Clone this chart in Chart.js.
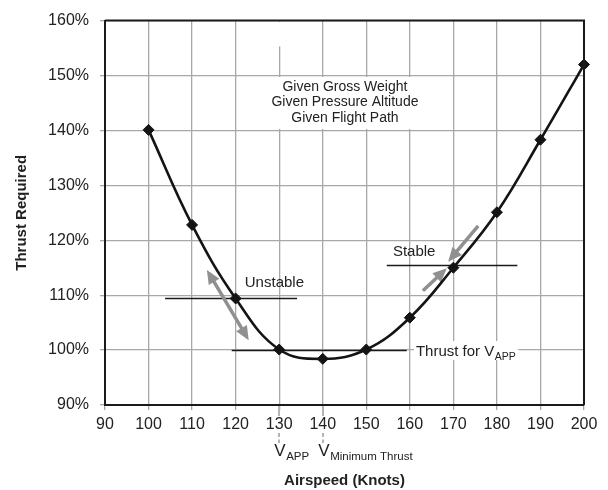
<!DOCTYPE html>
<html><head><meta charset="utf-8">
<script src="https://cdn.jsdelivr.net/npm/chart.js@4.4.1/dist/chart.umd.min.js"></script>
<style>html,body{margin:0;padding:0;background:#fff;}#wrap{width:608px;height:490px;}</style>
</head><body><div id="wrap"><canvas id="c" width="608" height="490"></canvas></div>
<script>
// ---- data ----
const airspeed = [100, 110, 120, 130, 140, 150, 160, 170, 180, 190, 200];
const thrustRequired = [140.1, 122.8, 109.4, 100.1, 98.4, 100.1, 105.9, 115.0, 125.1, 138.3, 152.0];
const xTickValues = [90, 100, 110, 120, 130, 140, 150, 160, 170, 180, 190, 200];
const yTickValues = [90, 100, 110, 120, 130, 140, 150, 160];
const conditionLines = ['Given Gross Weight', 'Given Pressure Altitude', 'Given Flight Path'];
const conditionAnchor = [145.1, 145.1];
const unstableLineX = [103.8, 134.1];
const unstableLineY = 109.5;
const unstableLabel = ['Unstable', 128.9, 112.2];
const stableLineX = [154.7, 184.7];
const stableLineY = 115.5;
const stableLabel = ['Stable', 161.0, 117.8];
const thrustLineX = [119.1, 159.3];
const thrustLineY = 100;
const thrustLabel = ['Thrust for V', 'APP', 161.4, 100];
const unstableArrow = [[113.4, 114.6], [123.0, 101.8]];
const stableArrowDown = [[175.7, 122.6], [168.8, 116.1]];
const stableArrowUp = [[163.0, 110.8], [168.5, 114.9]];
const speedMarks = [[130, 'APP'], [140, 'Minimum Thrust']];

const FONT = '"Liberation Sans", Arial, Helvetica, sans-serif';
const TXT = '#222';
const GRID = '#a8a8a8';
const ARROW = '#909090';

function head(ctx, px, py, ang, L, H) {
  const c = Math.cos(ang), s = Math.sin(ang);
  ctx.beginPath();
  ctx.moveTo(px, py);
  ctx.lineTo(px - L * c + H * s, py - L * s - H * c);
  ctx.lineTo(px - L * c - H * s, py - L * s + H * c);
  ctx.closePath();
  ctx.fill();
}
function arrow(ctx, xs, ys, pts, dbl) {
  const a = {x: xs.getPixelForValue(pts[0][0]), y: ys.getPixelForValue(pts[0][1])};
  const b = {x: xs.getPixelForValue(pts[1][0]), y: ys.getPixelForValue(pts[1][1])};
  const ang = Math.atan2(b.y - a.y, b.x - a.x);
  const L = 14, H = 6.2;
  ctx.save();
  ctx.strokeStyle = ARROW; ctx.fillStyle = ARROW; ctx.lineWidth = 3.5;
  const c = Math.cos(ang), s = Math.sin(ang);
  const sx = dbl ? a.x + c * (L - 2) : a.x, sy = dbl ? a.y + s * (L - 2) : a.y;
  ctx.beginPath(); ctx.moveTo(sx, sy); ctx.lineTo(b.x - c * (L - 2), b.y - s * (L - 2)); ctx.stroke();
  head(ctx, b.x, b.y, ang, L, H);
  if (dbl) head(ctx, a.x, a.y, ang + Math.PI, L, H);
  ctx.restore();
}
function hline(ctx, xs, ys, xr, yv) {
  ctx.save();
  ctx.strokeStyle = '#1a1a1a'; ctx.lineWidth = 1.4;
  const y = Math.round(ys.getPixelForValue(yv)) + 0.5;
  ctx.beginPath(); ctx.moveTo(xs.getPixelForValue(xr[0]), y); ctx.lineTo(xs.getPixelForValue(xr[1]), y); ctx.stroke();
  ctx.restore();
}

const annot = {
  id: 'annot',
  beforeDatasetsDraw(chart) {
    const ctx = chart.ctx, xs = chart.scales.x, ys = chart.scales.y, ca = chart.chartArea;
    ctx.save();
    // gap in the 130 gridline at the top
    ctx.fillStyle = '#fff';
    const g130 = xs.getPixelForValue(130);
    ctx.fillRect(g130 - 2, ca.top + 1.5, 4, ys.getPixelForValue(155.3) - ca.top - 1.5);
    // white box behind conditions text
    const y150 = ys.getPixelForValue(150), y140 = ys.getPixelForValue(140);
    const cx = xs.getPixelForValue(conditionAnchor[0]), cy = ys.getPixelForValue(conditionAnchor[1]);
    ctx.font = '14px ' + FONT;
    let w = 0; conditionLines.forEach(t => { w = Math.max(w, ctx.measureText(t).width); });
    ctx.fillRect(cx - w / 2 - 18, y150 + 1.5, w + 34, y140 - y150 - 3);
    ctx.fillStyle = TXT; ctx.textAlign = 'center'; ctx.textBaseline = 'middle';
    conditionLines.forEach((t, i) => ctx.fillText(t, cx, cy + (i - 1) * 15.6));
    // thrust label background + text
    ctx.font = '15px ' + FONT;
    const tx = xs.getPixelForValue(thrustLabel[2]), ty = ys.getPixelForValue(thrustLabel[3]);
    const w1 = ctx.measureText(thrustLabel[0]).width;
    ctx.font = '10.5px ' + FONT;
    const w2 = ctx.measureText(thrustLabel[1]).width;
    ctx.fillStyle = '#fff';
    ctx.fillRect(tx - 2, ty - 9, w1 + w2 + 5, 19);
    ctx.fillStyle = TXT; ctx.textAlign = 'left'; ctx.textBaseline = 'alphabetic';
    ctx.font = '15px ' + FONT;
    ctx.fillText(thrustLabel[0], tx, ty + 6);
    ctx.font = '10.5px ' + FONT;
    ctx.fillText(thrustLabel[1], tx + w1 + 0.5, ty + 10);
    // Stable / Unstable labels
    ctx.font = '15px ' + FONT; ctx.textAlign = 'center'; ctx.textBaseline = 'middle';
    [unstableLabel, stableLabel].forEach(l => ctx.fillText(l[0], xs.getPixelForValue(l[1]), ys.getPixelForValue(l[2])));
    ctx.restore();
    // lines
    hline(ctx, xs, ys, unstableLineX, unstableLineY);
    hline(ctx, xs, ys, stableLineX, stableLineY);
    hline(ctx, xs, ys, thrustLineX, thrustLineY);
    // arrows
    arrow(ctx, xs, ys, unstableArrow, true);
    arrow(ctx, xs, ys, stableArrowDown, false);
    arrow(ctx, xs, ys, stableArrowUp, false);
  },
  afterDraw(chart) {
    const ctx = chart.ctx, xs = chart.scales.x, ca = chart.chartArea;
    ctx.save();
    // top and right frame
    ctx.strokeStyle = '#1a1a1a'; ctx.lineWidth = 2;
    ctx.beginPath();
    ctx.moveTo(ca.left, ca.top); ctx.lineTo(ca.right, ca.top); ctx.lineTo(ca.right, ca.bottom);
    ctx.stroke();
    // speed marks
    speedMarks.forEach(m => {
      const x = Math.round(xs.getPixelForValue(m[0]));
      ctx.strokeStyle = '#b4b4b4'; ctx.lineWidth = 2;
      ctx.setLineDash([]);
      ctx.beginPath(); ctx.moveTo(x, ca.bottom + 1); ctx.lineTo(x, ca.bottom + 11); ctx.stroke();
      ctx.setLineDash([4, 2.5]);
      ctx.beginPath(); ctx.moveTo(x, ca.bottom + 28); ctx.lineTo(x, ca.bottom + 38); ctx.stroke();
      ctx.setLineDash([]);
      ctx.fillStyle = TXT; ctx.textBaseline = 'alphabetic';
      ctx.font = '17px ' + FONT; ctx.textAlign = 'center';
      ctx.fillText('V', x + 1, ca.bottom + 51);
      const vw = ctx.measureText('V').width;
      ctx.font = '11.5px ' + FONT; ctx.textAlign = 'left';
      ctx.fillText(m[1], x + 1 + vw / 2 + 0.5, ca.bottom + 55);
    });
    ctx.restore();
  }
};

new Chart(document.getElementById('c'), {
  type: 'line',
  data: {
    datasets: [{
      data: airspeed.map((v, i) => ({x: v, y: thrustRequired[i]})),
      borderColor: '#141414',
      borderWidth: 2.6,
      tension: 0.4,
      pointStyle: 'rectRot',
      pointRadius: 5.5,
      pointBackgroundColor: '#141414',
      pointBorderColor: '#141414',
      pointBorderWidth: 1,
      clip: false
    }]
  },
  options: {
    responsive: false,
    animation: false,
    devicePixelRatio: 1,
    layout: {padding: {top: 16, right: 24, left: 0, bottom: 0}},
    plugins: {legend: {display: false}, tooltip: {enabled: false}},
    scales: {
      x: {
        type: 'linear', min: 90, max: 200,
        afterBuildTicks: s => { s.ticks = xTickValues.map(v => ({value: v})); },
        afterFit: s => { s.height = 85; },
        grid: {color: GRID, lineWidth: 1.3, tickLength: 5, tickColor: GRID},
        border: {color: '#1a1a1a', width: 2},
        ticks: {color: TXT, font: {family: FONT, size: 16}, padding: 5, maxRotation: 0},
        title: {display: true, text: 'Airspeed (Knots)', color: TXT, font: {family: FONT, size: 15, weight: 'bold'}, padding: {top: 0, bottom: 0}}
      },
      y: {
        type: 'linear', min: 90, max: 160,
        afterBuildTicks: s => { s.ticks = yTickValues.map(v => ({value: v})); },
        afterFit: s => { s.width = 105; },
        grid: {color: GRID, lineWidth: 1.3, tickLength: 5, tickColor: GRID},
        border: {color: '#1a1a1a', width: 2},
        ticks: {color: TXT, font: {family: FONT, size: 16}, padding: 11, callback: v => v + '%'},
        title: {display: true, text: 'Thrust Required', color: TXT, font: {family: FONT, size: 15, weight: 'bold'}, padding: {top: 13, bottom: 0}}
      }
    }
  },
  plugins: [annot]
});
</script>
</body></html>
